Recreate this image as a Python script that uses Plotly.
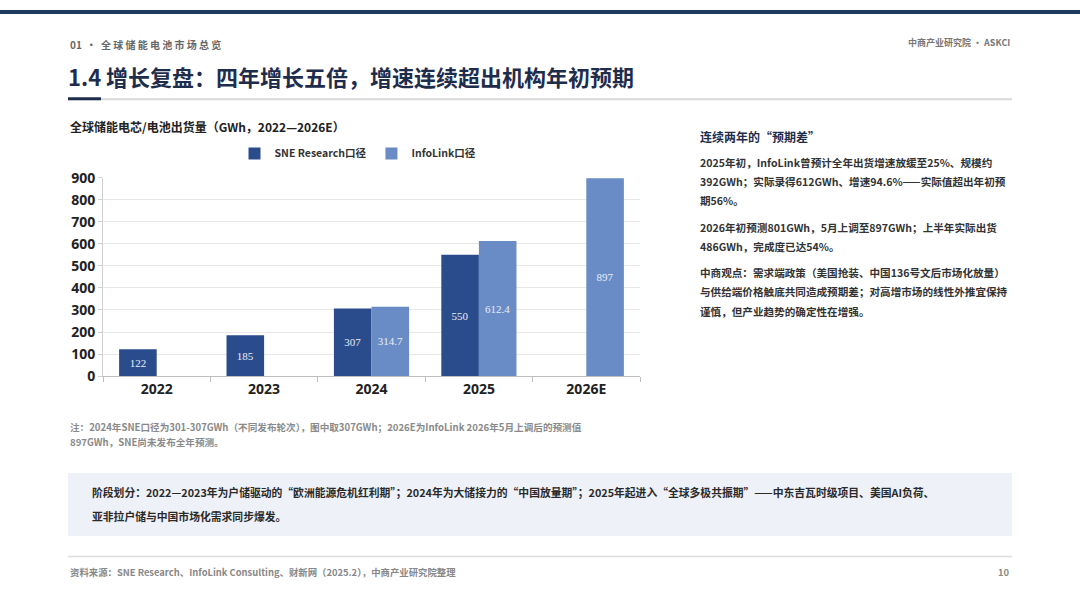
import plotly.graph_objects as go

W, H = 1080, 608

years = ['2022', '2023', '2024', '2025', '2026E']
sne = [122, 185, 307, 550, None]
infolink = [None, None, 314.7, 612.4, 897]
y_ticks = [0, 100, 200, 300, 400, 500, 600, 700, 800, 900]

right_lines = [
    '2025年初，InfoLink曾预计全年出货增速放缓至25%、规模约',
    '392GWh；实际录得612GWh、增速94.6%——实际值超出年初预',
    '期56%。',
    '',
    '2026年初预测801GWh，5月上调至897GWh；上半年实际出货',
    '486GWh，完成度已达54%。',
    '',
    '中商观点：需求端政策（美国抢装、中国136号文后市场化放量）',
    '与供给端价格触底共同造成预期差；对高增市场的线性外推宜保持',
    '谨慎，但产业趋势的确定性在增强。',
]

CJK = 'Noto Sans CJK SC'
DARK_BLUE = '#2b4c8c'
LIGHT_BLUE = '#6a8cc6'
NAVY = '#1f2d4d'


def px(x):
    return x / W


def py(y):
    return 1 - y / H


def lbl(v):
    return '' if v is None else f'{v:g}'


fig = go.Figure()
fig.add_trace(go.Bar(
    x=years, y=sne, name='<b>SNE Research口径</b>',
    marker=dict(color=DARK_BLUE, line=dict(width=0)),
    text=[lbl(v) for v in sne], textposition='inside', insidetextanchor='middle',
    textangle=0, constraintext='none',
    textfont=dict(family='Liberation Serif', size=11, color='#e8eef8')))
fig.add_trace(go.Bar(
    x=years, y=infolink, name='<b>InfoLink口径</b>',
    marker=dict(color=LIGHT_BLUE, line=dict(width=0)),
    text=[lbl(v) for v in infolink], textposition='inside', insidetextanchor='middle',
    textangle=0, constraintext='none',
    textfont=dict(family='Liberation Serif', size=11, color='#e8eef8')))

fig.update_layout(
    width=W, height=H,
    margin=dict(l=0, r=0, t=0, b=0),
    paper_bgcolor='white', plot_bgcolor='white',
    barmode='group', bargap=0.3, bargroupgap=0,
    font=dict(family=CJK, color='#333333'),
    showlegend=True,
    legend=dict(orientation='h', x=px(358), xanchor='center', y=py(148), yanchor='middle',
                font=dict(family=CJK, size=10.5, color='#333333'),
                itemwidth=30, tracegroupgap=0, traceorder='normal', bgcolor='rgba(0,0,0,0)'),
    xaxis=dict(domain=[px(103), px(640)], type='category',
               showline=True, linecolor='#bfbfbf', linewidth=1,
               ticks='outside', tickson='boundaries', ticklen=5, tickcolor='#bfbfbf',
               tickfont=dict(family='Noto Sans', size=14, color='#222222', weight='bold'),
               showgrid=False),
    yaxis=dict(domain=[py(378), py(173)], range=[0, 900], tickvals=y_ticks,
               showline=True, linecolor='#d0d0d0', linewidth=1,
               ticks='outside', ticklen=4, tickcolor='#d0d0d0',
               showgrid=True, gridcolor='#e8e8e8', gridwidth=1, zeroline=False,
               tickfont=dict(family='Noto Sans', size=14, color='#222222', weight='bold')),
)

shapes = [
    dict(type='rect', xref='paper', yref='paper', x0=0, x1=1, y0=py(4), y1=1,
         fillcolor='#1f3a5f', line=dict(width=0)),
    dict(type='line', xref='paper', yref='paper', x0=px(68), x1=px(1012), y0=py(92), y1=py(92),
         line=dict(color='#d9d9d9', width=2)),
    dict(type='line', xref='paper', yref='paper', x0=px(68), x1=px(101), y0=py(91.5), y1=py(91.5),
         line=dict(color=NAVY, width=3)),
    dict(type='rect', xref='paper', yref='paper', x0=px(68), x1=px(1012), y0=py(543), y1=py(478),
         fillcolor='#eef1f8', line=dict(width=0), layer='below'),
    dict(type='line', xref='paper', yref='paper', x0=px(68), x1=px(1012), y0=py(564), y1=py(564),
         line=dict(color='#dddddd', width=1.5)),
]
fig.update_layout(shapes=shapes)


def note(x, y, text, size, color, bold=False, anchor='left'):
    if bold:
        text = f'<b>{text}</b>'
    fig.add_annotation(xref='paper', yref='paper', x=px(x), y=py(y), text=text,
                       showarrow=False, xanchor=anchor, yanchor='middle', align=anchor,
                       font=dict(family=CJK, size=size, color=color))


note(68, 36, '01  ·  全 球 储 能 电 池 市 场 总 览', 10, '#666666', bold=True)
note(1012, 34, '中商产业研究院 · ASKCI', 9, '#777777', bold=True, anchor='right')
note(66, 68, '1.4 增长复盘：四年增长五倍，增速连续超出机构年初预期', 22, NAVY, bold=True)
note(68, 120, '全球储能电芯/电池出货量（GWh，2022—2026E）', 12, '#222222', bold=True)

note(698, 131, '连续两年的“预期差”', 12, NAVY, bold=True)
y = 157
for line in right_lines:
    if line == '':
        y += 7
        continue
    note(698, y, line, 10.6, '#333333', bold=True)
    y += 20

note(68, 430, '注：2024年SNE口径为301-307GWh（不同发布轮次），图中取307GWh；2026E为InfoLink 2026年5月上调后的预测值',
     9.6, '#8a8a8a', bold=True)
note(68, 446, '897GWh，SNE尚未发布全年预测。', 9.6, '#8a8a8a', bold=True)

note(90, 498, '阶段划分：2022—2023年为户储驱动的“欧洲能源危机红利期”；2024年为大储接力的“中国放量期”；'
              '2025年起进入“全球多极共振期”——中东吉瓦时级项目、美国AI负荷、', 10.8, '#2a2a2a', bold=True)
note(90, 522, '亚非拉户储与中国市场化需求同步爆发。', 10.8, '#2a2a2a', bold=True)

note(68, 580, '资料来源：SNE Research、InfoLink Consulting、财新网（2025.2），中商产业研究院整理', 9.4, '#888888', bold=True)
note(1012, 580, '10', 9.4, '#888888', bold=True, anchor='right')

# pin the 1080x608 figure to the window corner so the body margin does not shift it
page_js = (
    "var gd=document.getElementById('{plot_id}');"
    "document.documentElement.style.margin='0';document.body.style.margin='0';"
    "gd.style.position='fixed';gd.style.top='0px';gd.style.left='0px';"
    "document.documentElement.style.overflow='hidden';document.body.style.overflow='hidden';"
)
fig.write_html('out.html', config={'displayModeBar': False}, post_script=page_js)
